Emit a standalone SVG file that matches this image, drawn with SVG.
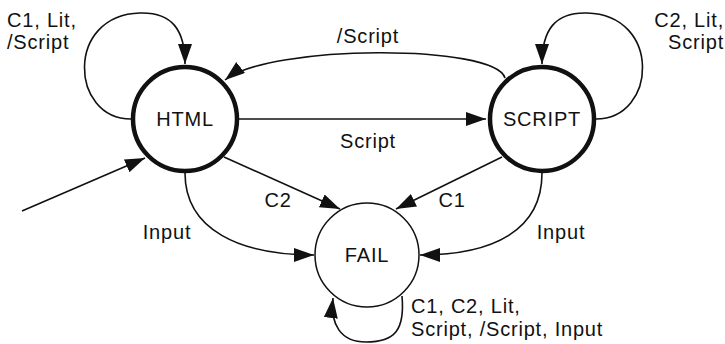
<svg xmlns="http://www.w3.org/2000/svg" width="725" height="344" viewBox="0 0 725 344">
<style>
text{font-family:"Liberation Sans",Arial,sans-serif;font-size:20px;letter-spacing:0.8px;fill:#111}
.lbl{text-anchor:middle}
.node{fill:#fff;stroke:#111}
.thick{stroke-width:4.5}
.thin{stroke-width:1.5}
.edge{fill:none;stroke:#111;stroke-width:1.6;marker-end:url(#ah)}
</style>
<defs>
<marker id="ah" markerUnits="userSpaceOnUse" markerWidth="22" markerHeight="16" refX="20" refY="7" orient="auto">
<path d="M0,0 L20,7 L0,14 z" fill="#111"/>
</marker>
</defs>
<g id="connectors">
<path class="edge" d="M22,211 L145,158"/>
<path class="edge" d="M239,119 L486,119"/>
<path class="edge" d="M505,78 C495,44 270,44 225,80"/>
<path class="edge" d="M131,119 C70,119 65,15 140,13 C172,12 185,30 185,64"/>
<path class="edge" d="M596,119 C657,119 662,15 587,13 C555,12 542,30 542,64"/>
<path class="edge" d="M224,157 L340,209"/>
<path class="edge" d="M502,157 L396,209"/>
<path class="edge" d="M185,173 C185,230 240,255 314,255"/>
<path class="edge" d="M542,173 C542,230 494,255 420,255"/>
<path class="edge" d="M402,296 C405,330 395,342 366,342 C341,342 330,325 333,298"/>
<text class="lbl" x="368" y="43">/Script</text>
<text class="lbl" x="368" y="148">Script</text>
<text class="lbl" x="278" y="207">C2</text>
<text class="lbl" x="452" y="207">C1</text>
<text class="lbl" x="167" y="239">Input</text>
<text class="lbl" x="561" y="239">Input</text>
<text x="7" y="27">C1, Lit,</text>
<text x="7" y="49">/Script</text>
<text x="724" y="27" text-anchor="end">C2, Lit,</text>
<text x="724" y="49" text-anchor="end">Script</text>
<text x="411" y="313">C1, C2, Lit,</text>
<text x="411" y="336">Script, /Script, Input</text>
</g>
<g id="HTML">
<circle class="node thick" cx="185" cy="119" r="52"/>
<text class="lbl" x="185" y="126">HTML</text>
</g>
<g id="SCRIPT">
<circle class="node thick" cx="542" cy="119" r="52"/>
<text class="lbl" x="542" y="126">SCRIPT</text>
</g>
<g id="FAIL">
<circle class="node thin" cx="367" cy="255" r="52"/>
<text class="lbl" x="367" y="262">FAIL</text>
</g>
</svg>
